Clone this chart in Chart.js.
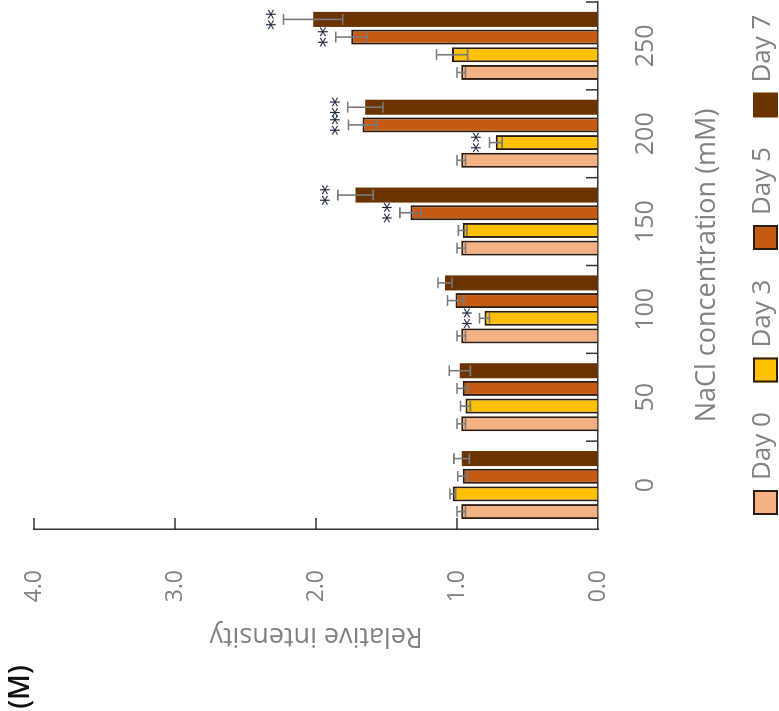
<!DOCTYPE html>
<html>
<head>
<meta charset="utf-8">
<script src="https://cdn.jsdelivr.net/npm/chart.js@4"></script>
<style>
  html, body { margin: 0; padding: 0; background: #fff; overflow: hidden; }
  #wrap {
    position: absolute; left: 0; top: 0;
    width: 711px; height: 779px;
    transform-origin: 0 0;
    transform: translate(0px, 711px) rotate(-90deg);
    background: #fff;
  }
</style>
</head>
<body>
<div id="wrap"><canvas id="c" width="711" height="779"></canvas></div>
<script>
// ---- data ----
const categories = ['0', '50', '100', '150', '200', '250'];
const seriesNames = ['Day 0', 'Day 3', 'Day 5', 'Day 7'];
const day0 = [0.97, 0.97, 0.97, 0.97, 0.97, 0.97];
const day0Err = [0.03, 0.03, 0.03, 0.03, 0.03, 0.03];
const day3 = [1.03, 0.94, 0.805, 0.96, 0.725, 1.035];
const day3Err = [0.02, 0.035, 0.035, 0.03, 0.045, 0.11];
const day5 = [0.96, 0.96, 1.01, 1.33, 1.67, 1.75];
const day5Err = [0.035, 0.04, 0.057, 0.075, 0.10, 0.11];
const day7 = [0.967, 0.98, 1.085, 1.72, 1.65, 2.02];
const day7Err = [0.055, 0.075, 0.05, 0.125, 0.125, 0.21];
const day0Sig = ['', '', '', '', '', ''];
const day3Sig = ['', '', '**', '', '**', ''];
const day5Sig = ['', '', '', '**', '**', '**'];
const day7Sig = ['', '', '', '**', '**', '**'];
const yTicks = [0, 1, 2, 3, 4];

const fills = ['#F4B183', '#FFC000', '#C55A11', '#6B3300'];
const borders = ['#2b1b10', '#2b1b10', '#2b1b10', '#6B3300'];
const borderWidths = [2, 2, 2, 0];
const values = [day0, day3, day5, day7];
const errs = [day0Err, day3Err, day5Err, day7Err];
const sigs = [day0Sig, day3Sig, day5Sig, day7Sig];

const FONT = '"Open Sans", "DejaVu Sans", sans-serif';
const GREY = '#828282';
const NONE = 'rgba(0,0,0,0)';

const extras = {
  id: 'extras',
  afterDatasetsDraw(chart) {
    const ctx = chart.ctx;
    const xs = chart.scales.x, ys = chart.scales.y;
    ctx.save();
    // error bars
    chart.data.datasets.forEach((ds, d) => {
      const meta = chart.getDatasetMeta(d);
      meta.data.forEach((el, i) => {
        const v = ds.data[i], e = ds.errs[i];
        const yT = ys.getPixelForValue(v + e);
        const yB = ys.getPixelForValue(v - e);
        const half = el.width * 0.36;
        ctx.strokeStyle = '#7a7a7a';
        ctx.lineWidth = 1.6;
        ctx.beginPath();
        ctx.moveTo(el.x, yT); ctx.lineTo(el.x, yB);
        ctx.moveTo(el.x - half, yT); ctx.lineTo(el.x + half, yT);
        ctx.moveTo(el.x - half, yB); ctx.lineTo(el.x + half, yB);
        ctx.stroke();
        const s = ds.sig[i];
        if (s) {
          ctx.fillStyle = '#1e2640';
          ctx.font = '21px "DejaVu Sans", sans-serif';
          ctx.textAlign = 'center';
          ctx.textBaseline = 'alphabetic';
          ctx.fillText(s, el.x, yT - 2);
        }
      });
    });
    // inside tick marks
    ctx.strokeStyle = '#333';
    ctx.lineWidth = 1.5;
    ctx.beginPath();
    yTicks.forEach(v => {
      if (v === 0) return;
      const py = ys.getPixelForValue(v);
      ctx.moveTo(xs.left, py); ctx.lineTo(xs.left + 11, py);
    });
    const n = categories.length;
    for (let i = 1; i <= n; i++) {
      const px = xs.left + i * (xs.width / n);
      ctx.moveTo(px, ys.bottom); ctx.lineTo(px, ys.bottom - 12);
    }
    ctx.stroke();
    ctx.restore();
  },
  afterDraw(chart) {
    const ctx = chart.ctx;
    ctx.save();
    // legend
    chart.data.datasets.forEach((ds, d) => {
      const x0 = 196 + d * 132.5;
      const y0 = 753;
      ctx.fillStyle = ds.backgroundColor;
      ctx.fillRect(x0, y0, 25, 25);
      if (ds.borderWidth > 0) {
        ctx.strokeStyle = ds.borderColor;
        ctx.lineWidth = 2;
        ctx.strokeRect(x0 + 1, y0 + 1, 23, 23);
      }
      ctx.fillStyle = GREY;
      ctx.font = '26px ' + FONT;
      ctx.textAlign = 'left';
      ctx.textBaseline = 'middle';
      ctx.fillText(ds.label, x0 + 35, y0 + 10);
    });
    // panel label
    ctx.fillStyle = '#111';
    ctx.font = '600 28px ' + FONT;
    ctx.textAlign = 'center';
    ctx.textBaseline = 'middle';
    ctx.fillText('(M)', 24, 21);
    ctx.restore();
  }
};

new Chart(document.getElementById('c'), {
  type: 'bar',
  data: {
    labels: categories,
    datasets: seriesNames.map((name, d) => ({
      label: name,
      data: values[d],
      errs: errs[d],
      sig: sigs[d],
      backgroundColor: fills[d],
      borderColor: borders[d],
      borderWidth: borderWidths[d],
      categoryPercentage: 0.805,
      barPercentage: 0.85
    }))
  },
  options: {
    responsive: false,
    animation: false,
    devicePixelRatio: 1,
    layout: { padding: { top: 34, right: 2, left: 0, bottom: 50 } },
    plugins: { legend: { display: false }, tooltip: { enabled: false } },
    scales: {
      x: {
        offset: true,
        grid: { display: true, drawOnChartArea: false, drawTicks: true, tickLength: 33, color: NONE },
        border: { display: true, color: '#333', width: 1.5 },
        ticks: { padding: 0, color: GREY, font: { family: FONT, size: 25 }, maxRotation: 0, autoSkip: false },
        title: { display: true, text: 'NaCl concentration (mM)', color: GREY, font: { family: FONT, size: 27 }, padding: { top: 0, bottom: 5 } },
        afterFit: s => { s.height = 131; }
      },
      y: {
        min: 0, max: 4,
        afterBuildTicks: s => { s.ticks = yTicks.map(v => ({ value: v })); },
        grid: { display: true, drawOnChartArea: false, drawTicks: true, tickLength: 41, color: NONE },
        border: { display: true, color: '#333', width: 1.5 },
        ticks: { padding: 0, color: GREY, font: { family: FONT, size: 23 }, callback: v => Number(v).toFixed(1) },
        title: { display: true, text: 'Relative intensity', color: GREY, font: { family: FONT, size: 27 }, padding: { top: 59, bottom: 0 } },
        afterFit: s => { s.width = 182; }
      }
    }
  },
  plugins: [extras]
});
</script>
</body>
</html>
